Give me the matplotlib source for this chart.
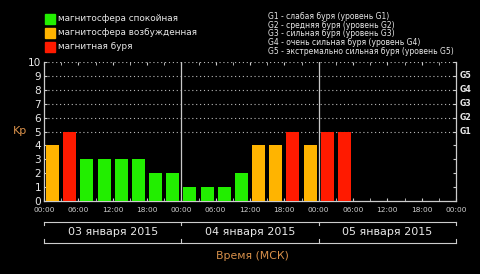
import numpy as np
import matplotlib.pyplot as plt
from matplotlib.patches import Rectangle

# Kp index, 3-hour intervals starting 03 Jan 2015 00:00 MSK
kp = [4, 5, 3, 3, 3, 3, 2, 2,
      1, 1, 1, 2, 4, 4, 5, 4,
      5, 5]
days = ["03 января 2015", "04 января 2015", "05 января 2015"]
hour_labels = ["00:00", "06:00", "12:00", "18:00"] * 3 + ["00:00"]
g_labels = ["G1", "G2", "G3", "G4", "G5"]
legend_left = ["магнитосфера спокойная", "магнитосфера возбужденная", "магнитная буря"]
legend_right = [
    "G1 - слабая буря (уровень G1)",
    "G2 - средняя буря (уровень G2)",
    "G3 - сильная буря (уровень G3)",
    "G4 - очень сильная буря (уровень G4)",
    "G5 - экстремально сильная буря (уровень G5)",
]

green = "#22ee00"
orange = "#ffb400"
red = "#ff1a00"
fg = "#e8e8e8"
brown = "#d8904a"


def kp_color(v):
    if v >= 5:
        return red
    if v == 4:
        return orange
    return green


W, H = 480, 274
fig = plt.figure(figsize=(W / 100, H / 100), dpi=100, facecolor="black")
ax = fig.add_axes([44 / W, 1 - 201 / H, 412 / W, 139 / H])
ax.set_facecolor("black")

x = np.arange(len(kp)) * 3 + 1.5
ax.bar(x, kp, width=2.3, color=[kp_color(v) for v in kp], zorder=3)

ax.set_xlim(0, 72)
ax.set_ylim(0, 10)

# dotted grid for storm levels
for y in range(5, 11):
    ax.axhline(y, color="#bbbbbb", lw=0.8, ls=(0, (1, 2.5)), zorder=1)
for d in (24, 48):
    ax.axvline(d, color="#c8c8c8", lw=0.9, zorder=2)

ax.spines["top"].set_visible(False)
for s in ("left", "right", "bottom"):
    ax.spines[s].set_color("#cccccc")
    ax.spines[s].set_linewidth(0.9)

ax.set_yticks(range(0, 11))
ax.set_yticklabels([str(i) for i in range(11)], color=fg, fontsize=7.6)
ax.tick_params(axis="y", which="both", direction="in", length=2, color="#cccccc",
               left=True, right=True, pad=2)
ax.set_xticks(np.arange(0, 73, 6))
ax.set_xticklabels(hour_labels, color="#cfcfcf", fontsize=5.3)
ax.set_xticks(np.arange(0, 73, 3), minor=True)
ax.tick_params(axis="x", which="both", direction="in", length=2, color="#cccccc",
               top=True, bottom=True, pad=4)

# right-hand G scale
for i, g in enumerate(g_labels):
    ax.text(72.7, 5 + i, g, color=fg, fontsize=5.6, va="center", ha="left",
            fontweight="bold")

ax.text(-4.2, 5, "Kp", color=brown, fontsize=8, va="center", ha="center")

# day brackets below axis
trans = ax.get_xaxis_transform()
for yb, tick in ((-0.15, -0.025), (-0.30, 0.025)):
    ax.plot([0, 72], [yb, yb], color="#cccccc", lw=0.8, transform=trans, clip_on=False)
    for d in (0, 24, 48, 72):
        ax.plot([d, d], [yb, yb + tick], color="#cccccc", lw=0.8, transform=trans,
                clip_on=False)
for i, dname in enumerate(days):
    ax.text(12 + 24 * i, -0.225, dname, color=fg, fontsize=8, ha="center",
            va="center", transform=trans)
ax.text(36.5, -0.395, "Время (МСК)", color=brown, fontsize=7.8, ha="center",
        va="center", transform=trans)

# legends at top
for i, (lab, c) in enumerate(zip(legend_left, [green, orange, red])):
    yc = 18.7 + 14 * i
    fig.patches.append(Rectangle((45 / W, 1 - (yc + 5) / H), 10 / W, 10 / H,
                                 transform=fig.transFigure, color=c))
    fig.text(58 / W, 1 - yc / H, lab, color=fg, fontsize=6.4, va="center", ha="left")

for i, lab in enumerate(legend_right):
    fig.text(268 / W, 1 - (16.5 + 8.7 * i) / H, lab, color=fg, fontsize=5.5,
             va="center", ha="left")

fig.savefig("out.png", dpi=100, facecolor="black")
